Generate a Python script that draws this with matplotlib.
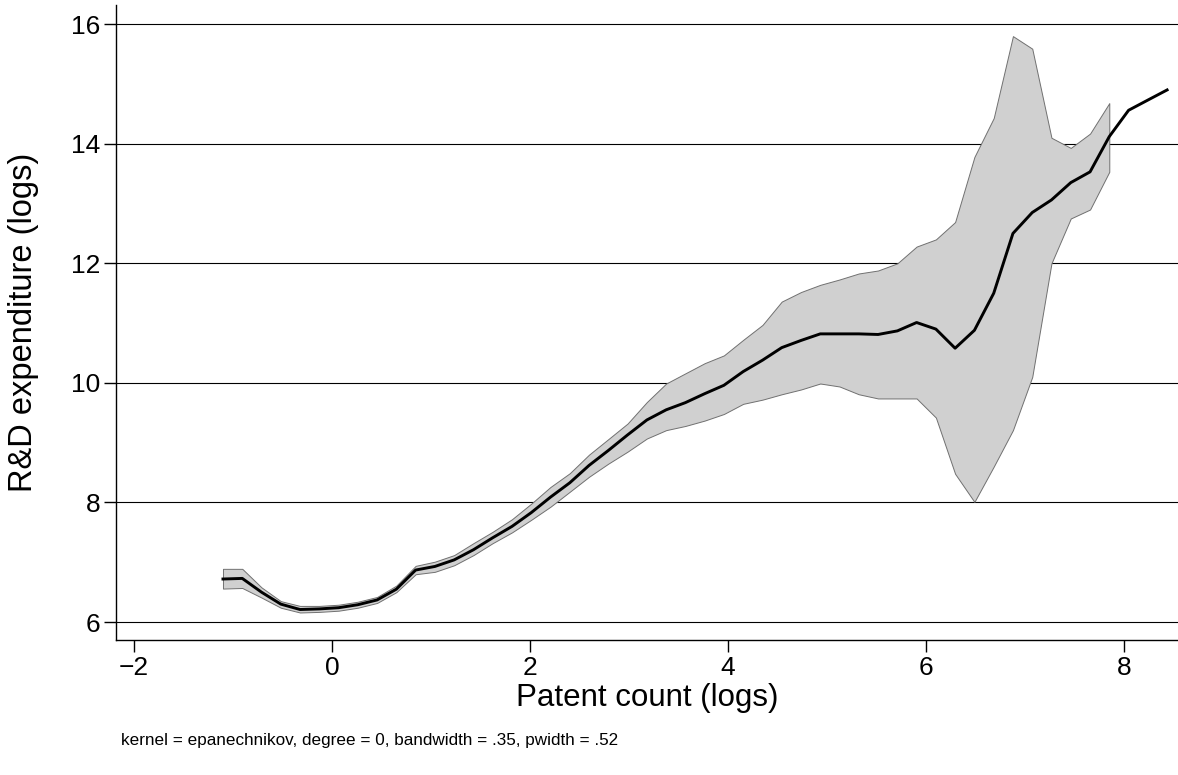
import matplotlib
matplotlib.use("Agg")
import matplotlib.pyplot as plt

plt.rcParams['font.family'] = ['Liberation Sans', 'DejaVu Sans']

# Grid of evaluation points (patent count, logs)
grid_x = [-1.100, -0.905, -0.711, -0.516, -0.322, -0.127, 0.068, 0.262, 0.457, 0.651,
          0.846, 1.040, 1.235, 1.430, 1.624, 1.819, 2.013, 2.208, 2.403, 2.597,
          2.792, 2.986, 3.181, 3.376, 3.570, 3.765, 3.959, 4.154, 4.349, 4.543,
          4.738, 4.932, 5.127, 5.321, 5.516, 5.711, 5.905, 6.100, 6.294, 6.489,
          6.684, 6.878, 7.073, 7.267, 7.462, 7.657, 7.851, 8.046, 8.240, 8.435]

# Local polynomial smooth (R&D expenditure, logs)
smooth_y = [6.72, 6.73, 6.50, 6.30, 6.21, 6.22, 6.24, 6.29, 6.37, 6.55,
            6.87, 6.93, 7.04, 7.21, 7.41, 7.60, 7.83, 8.09, 8.33, 8.62,
            8.87, 9.13, 9.38, 9.55, 9.67, 9.82, 9.96, 10.19, 10.38, 10.59,
            10.71, 10.82, 10.82, 10.82, 10.81, 10.87, 11.01, 10.90, 10.58, 10.88,
            11.50, 12.50, 12.85, 13.06, 13.35, 13.53, 14.12, 14.56, 14.73, 14.90]

# Confidence band (available for the first 47 grid points)
ci_upper = [6.89, 6.89, 6.58, 6.35, 6.27, 6.27, 6.29, 6.34, 6.42, 6.61,
            6.94, 7.01, 7.12, 7.32, 7.51, 7.72, 7.98, 8.26, 8.49, 8.80,
            9.06, 9.32, 9.68, 9.99, 10.16, 10.33, 10.46, 10.72, 10.97, 11.36,
            11.52, 11.64, 11.73, 11.83, 11.88, 12.00, 12.28, 12.40, 12.69, 13.78,
            14.43, 15.80, 15.59, 14.10, 13.93, 14.17, 14.68]
ci_lower = [6.56, 6.57, 6.41, 6.24, 6.16, 6.17, 6.19, 6.24, 6.32, 6.50,
            6.80, 6.84, 6.95, 7.12, 7.32, 7.50, 7.71, 7.93, 8.18, 8.43,
            8.65, 8.85, 9.07, 9.21, 9.28, 9.37, 9.48, 9.65, 9.72, 9.81,
            9.89, 9.99, 9.94, 9.81, 9.74, 9.74, 9.74, 9.42, 8.48, 8.01,
            8.60, 9.21, 10.10, 12.00, 12.75, 12.90, 13.53]

x_ticks = [-2, 0, 2, 4, 6, 8]
y_ticks = [6, 8, 10, 12, 14, 16]
x_label = "Patent count (logs)"
y_label = "R&D expenditure (logs)"
note = "kernel = epanechnikov, degree = 0, bandwidth = .35, pwidth = .52"

fig = plt.figure(figsize=(11.78, 7.75), dpi=100)
ax = fig.add_axes([0.0985, 0.1742, 0.9015, 0.8193])

n_ci = len(ci_upper)
ax.fill_between(grid_x[:n_ci], ci_lower, ci_upper, facecolor='#d0d0d0',
                edgecolor='#707070', linewidth=0.7, zorder=3)
ax.plot(grid_x, smooth_y, color='black', linewidth=2.1, zorder=4)

ax.set_xlim(-2.18, 8.545)
ax.set_ylim(5.70, 16.32)
ax.set_xticks(x_ticks)
ax.set_yticks(y_ticks)
ax.set_xticklabels(['\u22122' if v < 0 else str(v) for v in x_ticks])
ax.set_yticklabels([str(v) for v in y_ticks], rotation=0)

for v in y_ticks:
    ax.axhline(v, color='black', linewidth=0.8, zorder=1)

for s in ['top', 'right']:
    ax.spines[s].set_visible(False)
for s in ['left', 'bottom']:
    ax.spines[s].set_linewidth(1.0)
    ax.spines[s].set_color('black')

ax.tick_params(axis='both', direction='out', length=8.5, width=1.0,
               labelsize=19, pad=3, colors='black')

ax.set_xlabel(x_label, fontsize=22.5)
ax.set_ylabel(y_label, fontsize=23.5)
ax.xaxis.set_label_coords(0.5, -0.068)
ax.yaxis.set_label_coords(-0.073, 0.5)

fig.text(121 / 1178, 1 - 740 / 775, note, fontsize=12.3, ha='left', va='center')

fig.savefig('out.png', dpi=100)
